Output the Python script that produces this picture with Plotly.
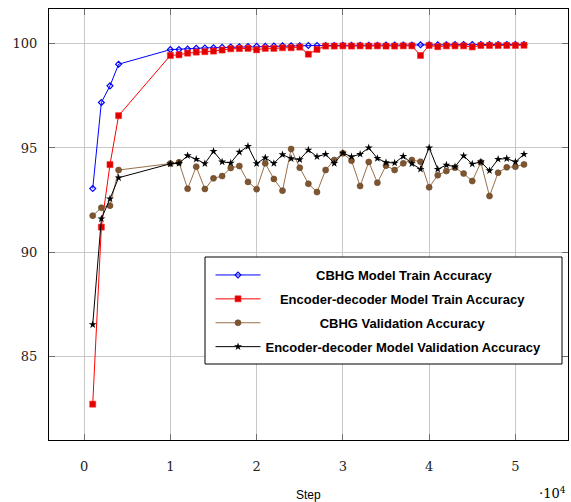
import plotly.graph_objects as go

steps = [1000, 2000, 3000, 4000,
         10000, 11000, 12000, 13000, 14000, 15000, 16000, 17000, 18000, 19000,
         20000, 21000, 22000, 23000, 24000, 25000, 26000, 27000, 28000, 29000,
         30000, 31000, 32000, 33000, 34000, 35000, 36000, 37000, 38000, 39000,
         40000, 41000, 42000, 43000, 44000, 45000, 46000, 47000, 48000, 49000,
         50000, 51000]

cbhg_train = [93.05, 97.18, 97.98, 99.02,
              99.72, 99.73, 99.75, 99.78, 99.80, 99.81, 99.83, 99.84, 99.86, 99.87,
              99.88, 99.88, 99.89, 99.90, 99.90, 99.91, 99.92, 99.92, 99.92, 99.92,
              99.93, 99.93, 99.93, 99.93, 99.93, 99.94, 99.94, 99.94, 99.94, 99.95,
              99.95, 99.95, 99.95, 99.96, 99.96, 99.96, 99.96, 99.96, 99.97, 99.97,
              99.97, 99.97]

encdec_train = [82.7, 91.2, 94.2, 96.55,
                99.44, 99.47, 99.55, 99.60, 99.62, 99.65, 99.70, 99.76, 99.77, 99.78,
                99.71, 99.78, 99.78, 99.81, 99.81, 99.84, 99.50, 99.73, 99.89, 99.89,
                99.90, 99.89, 99.90, 99.89, 99.90, 99.89, 99.89, 99.90, 99.90, 99.44,
                99.92, 99.86, 99.90, 99.90, 99.90, 99.85, 99.92, 99.92, 99.92, 99.92,
                99.92, 99.93]

cbhg_val = [91.75, 92.13, 92.23, 93.94,
            94.25, 94.31, 93.04, 94.10, 93.03, 93.54, 93.65, 94.04, 94.13, 93.37,
            93.02, 94.26, 93.51, 92.95, 94.95, 94.05, 93.28, 92.88, 93.94, 94.42,
            94.74, 94.39, 93.17, 94.33, 93.33, 94.15, 93.94, 94.26, 94.42, 94.34,
            93.11, 93.69, 93.89, 94.05, 93.77, 93.41, 94.31, 92.69, 93.81, 94.07,
            94.10, 94.21]

encdec_val = [86.52, 91.60, 92.56, 93.57,
              94.24, 94.26, 94.63, 94.46, 94.25, 94.84, 94.33, 94.28, 94.80, 95.08,
              94.25, 94.53, 94.26, 94.68, 94.49, 94.44, 94.90, 94.58, 94.70, 94.26,
              94.76, 94.58, 94.70, 95.01, 94.50, 94.30, 94.28, 94.60, 94.25, 93.98,
              95.01, 93.98, 94.18, 94.10, 94.62, 94.23, 94.33, 93.91, 94.46, 94.49,
              94.33, 94.70]

series_names = ["CBHG Model Train Accuracy",
                "Encoder-decoder Model Train Accuracy",
                "CBHG Validation Accuracy",
                "Encoder-decoder Model Validation Accuracy"]
pads = [14, 4, 15, 0]
x_ticks = [0, 1, 2, 3, 4, 5]
y_ticks = [85, 90, 95, 100]

NB = "\u00a0"
x = [s / 1e4 for s in steps]

def label(i):
    return NB * pads[i] + series_names[i]

fig = go.Figure()
fig.add_trace(go.Scatter(x=x, y=cbhg_train, mode="lines+markers", name=label(0),
                         legendgroup="a",
                         line=dict(color="#0000ff", width=1),
                         marker=dict(symbol="diamond-open", size=4.5, color="#0000ff",
                                     line=dict(width=1.2, color="#0000ff"))))
fig.add_trace(go.Scatter(x=x, y=encdec_train, mode="lines+markers", name=label(1),
                         legendgroup="b",
                         line=dict(color="#ff0000", width=1),
                         marker=dict(symbol="square", size=6, color="#e00000",
                                     line=dict(width=0.6, color="#ff2020"))))
fig.add_trace(go.Scatter(x=x, y=cbhg_val, mode="lines+markers", name=label(2),
                         legendgroup="c",
                         line=dict(color="#9a7048", width=1),
                         marker=dict(symbol="circle", size=6, color="#7d5530",
                                     line=dict(width=0.6, color="#6a4626"))))
fig.add_trace(go.Scatter(x=x, y=encdec_val, mode="lines+markers", name=label(3),
                         legendgroup="d",
                         line=dict(color="#000000", width=1),
                         marker=dict(symbol="star", size=6, color="#000000",
                                     line=dict(width=0))))

axis_common = dict(showgrid=True, gridcolor="#c8c8c8", gridwidth=1,
                   showline=True, linecolor="#000000", linewidth=1, mirror="allticks",
                   ticks="inside", ticklen=6, tickcolor="#707070", tickwidth=1,
                   zeroline=False, automargin=False,
                   tickfont=dict(family="DejaVu Serif", size=13, color="#222222"))

fig.update_layout(
    width=571, height=502,
    margin=dict(l=49, r=3, t=9, b=62, autoexpand=False),
    paper_bgcolor="white", plot_bgcolor="white",
    xaxis=dict(range=[-0.407, 5.61], tickvals=x_ticks,
               ticktext=[str(v) for v in x_ticks], ticklabelstandoff=14,
               **axis_common),
    yaxis=dict(range=[80.98, 101.67], tickvals=y_ticks,
               ticktext=[str(v) for v in y_ticks], ticklabelstandoff=8,
               **axis_common),
    legend=dict(x=(210.5 - 49) / 519, y=(440 - 260) / 431, xanchor="left", yanchor="top",
                borderwidth=0, bgcolor="rgba(255,255,255,0)",
                itemwidth=45, tracegroupgap=4, traceorder="grouped",
                font=dict(family="Liberation Sans", size=13, color="#000000",
                          weight="bold")),
    showlegend=True,
)

# legend frame (opaque white box with black border)
fig.add_shape(type="rect", xref="paper", yref="paper",
              x0=(205 - 49) / 519, x1=(562 - 49) / 519,
              y0=(440 - 364) / 431, y1=(440 - 257) / 431,
              line=dict(color="#000000", width=1), fillcolor="white", layer="above")

fig.add_annotation(text="Step", xref="paper", yref="paper",
                   x=0.5, y=-0.127, xanchor="center", yanchor="middle",
                   showarrow=False,
                   font=dict(family="Liberation Sans", size=12, color="#000000"))
fig.add_annotation(text="·10<sup>4</sup>", xref="paper", yref="paper",
                   x=1.0, y=-0.124, xanchor="right", yanchor="middle",
                   showarrow=False,
                   font=dict(family="DejaVu Serif", size=13, color="#000000"))

fig.write_html("out.html",
               config={"displayModeBar": False},
               post_script="document.body.style.margin='0';"
                           "document.body.style.overflow='hidden';")
